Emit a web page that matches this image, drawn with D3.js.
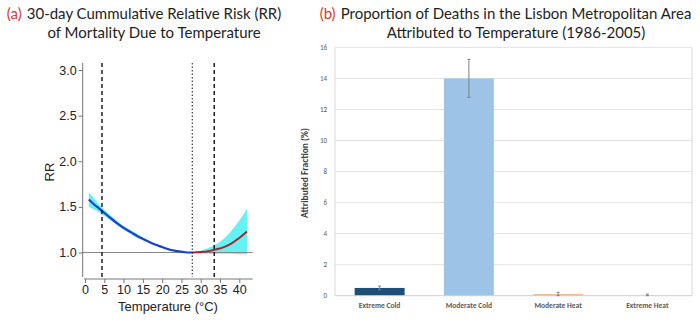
<!DOCTYPE html>
<html>
<head>
<meta charset="utf-8">
<script src="https://cdn.jsdelivr.net/npm/d3@7"></script>
<style>
  body { margin: 0; background: #fff; }
  svg { display: block; }
</style>
</head>
<body>
<div id="chart"></div>
<script>
// (a) cumulative relative risk curve
var temps  = [1, 2, 4, 6, 8, 10, 12, 14, 16, 18, 20, 22, 24, 26, 27.8, 30, 32, 34, 36, 38, 40, 42];
var rr     = [1.58, 1.54, 1.47, 1.40, 1.33, 1.27, 1.22, 1.17, 1.13, 1.09, 1.06, 1.03, 1.015, 1.003, 1.00, 1.005, 1.015, 1.035, 1.06, 1.10, 1.16, 1.23];
var rrLow  = [1.50, 1.48, 1.43, 1.37, 1.31, 1.25, 1.20, 1.15, 1.12, 1.08, 1.05, 1.02, 1.008, 0.998, 1.00, 0.99, 0.985, 0.985, 0.985, 0.985, 0.98, 0.98];
var rrHigh = [1.66, 1.61, 1.51, 1.43, 1.36, 1.29, 1.24, 1.19, 1.14, 1.10, 1.07, 1.04, 1.022, 1.008, 1.00, 1.02, 1.05, 1.09, 1.15, 1.24, 1.35, 1.48];
var mmt = 27.8;              // minimum mortality temperature
var cutoffs = [4.4, 33.5];   // extreme cold / extreme heat thresholds
var xTicksA = [0, 5, 10, 15, 20, 25, 30, 35, 40];
var yTicksA = [1.0, 1.5, 2.0, 2.5, 3.0];

// (b) attributable fraction by temperature range
var categories = ["Extreme Cold", "Moderate Cold", "Moderate Heat", "Extreme Heat"];
var af     = [0.5, 14.0, 0.09, 0.01];
var afLow  = [0.38, 12.78, 0.0, 0.0];
var afHigh = [0.62, 15.23, 0.22, 0.1];
var barColors = ["#1f4e79", "#9dc3e6", "#f4a06a", "#c0504d"];
var yTicksB = [0, 2, 4, 6, 8, 10, 12, 14, 16];

var W = 700, H = 323;
var svg = d3.select("#chart").append("svg").attr("width", W).attr("height", H);

var titleFont = "Lato, 'Open Sans', sans-serif";
var titleSize = "15px";
var red = "#d63a2f";

function title(cx, lines, tag) {
  var first;
  lines.forEach(function(t, i) {
    var el = svg.append("text")
      .attr("x", cx).attr("y", 19 + i * 19)
      .attr("text-anchor", "middle")
      .style("font-family", titleFont).style("font-size", titleSize)
      .style("fill", "#1e1e1e").text(t);
    if (i == 0) first = el;
  });
  var bb = first.node().getBBox();
  svg.append("text")
    .attr("x", bb.x - 5).attr("y", 19)
    .attr("text-anchor", "end")
    .style("font-family", titleFont).style("font-size", titleSize)
    .style("fill", red).text(tag);
}

title(154, ["30-day Cummulative Relative Risk (RR)", "of Mortality Due to Temperature"], "(a)");
title(516, ["Proportion of Deaths in the Lisbon Metropolitan Area", "Attributed to Temperature (1986-2005)"], "(b)");

// ---------- panel a ----------
var x = d3.scaleLinear().domain([0, 40]).range([85, 239.3]);
var y = d3.scaleLinear().domain([1, 3]).range([252.5, 70]);
var plotTop = 63, plotBottom = 277, axisX = 82.7, axisY = 279;
var pts = temps.map(function(t, i) { return {t: t, rr: rr[i], lo: rrLow[i], hi: rrHigh[i]}; });

var gA = svg.append("g");

gA.append("path")
  .datum(pts)
  .attr("fill", "#66f2f4")
  .attr("d", d3.area()
    .x(function(d) { return x(d.t); })
    .y0(function(d) { return y(d.lo); })
    .y1(function(d) { return y(d.hi); })
    .curve(d3.curveCatmullRom));

// reference line at RR = 1
gA.append("line")
  .attr("x1", axisX).attr("x2", 252.7)
  .attr("y1", y(1)).attr("y2", y(1))
  .style("stroke", "#888").style("stroke-width", 1.2);

var line = d3.line()
  .x(function(d) { return x(d.t); })
  .y(function(d) { return y(d.rr); })
  .curve(d3.curveCatmullRom);

gA.append("path")
  .datum(pts.filter(function(d) { return d.t <= mmt; }))
  .attr("fill", "none").attr("stroke", "#1d3fcf").attr("stroke-width", 2.2)
  .attr("d", line);
gA.append("path")
  .datum(pts.filter(function(d) { return d.t >= mmt; }))
  .attr("fill", "none").attr("stroke", "#a8232a").attr("stroke-width", 1.9)
  .attr("d", line);

cutoffs.forEach(function(c) {
  gA.append("line")
    .attr("x1", x(c)).attr("x2", x(c))
    .attr("y1", plotTop).attr("y2", plotBottom)
    .style("stroke", "#111").style("stroke-width", 1.4)
    .style("stroke-dasharray", "4,3");
});
gA.append("line")
  .attr("x1", x(mmt)).attr("x2", x(mmt))
  .attr("y1", plotTop).attr("y2", plotBottom)
  .style("stroke", "#111").style("stroke-width", 1)
  .style("stroke-dasharray", "1.5,2");

// axes
var axisFont = "'Liberation Sans', Arial, sans-serif";
var yAxisA = gA.append("g")
  .attr("transform", "translate(" + axisX + ",0)")
  .call(d3.axisLeft(y).tickValues(yTicksA).tickFormat(d3.format(".1f")).tickSize(4).tickSizeOuter(0));
yAxisA.select(".domain").attr("d", "M0," + plotTop + "V" + plotBottom);

var xAxisA = gA.append("g")
  .attr("transform", "translate(0," + axisY + ")")
  .call(d3.axisBottom(x).tickValues(xTicksA).tickSize(4).tickSizeOuter(0));
xAxisA.select(".domain").attr("d", "M84,0H252.7");

[yAxisA, xAxisA].forEach(function(a) {
  a.selectAll("path, line").style("stroke", "#777");
  a.selectAll("text").style("font-family", axisFont).style("font-size", "12.5px").style("fill", "#222");
});
yAxisA.selectAll("text").attr("x", -6);
xAxisA.selectAll("text").attr("y", 6);

gA.append("text")
  .attr("x", 168).attr("y", 311)
  .attr("text-anchor", "middle")
  .style("font-family", axisFont).style("font-size", "13px").style("fill", "#222")
  .text("Temperature (°C)");
gA.append("text")
  .attr("transform", "translate(54,172) rotate(-90)")
  .attr("text-anchor", "middle")
  .style("font-family", axisFont).style("font-size", "13px").style("fill", "#222")
  .text("RR");

// ---------- panel b ----------
var xb = d3.scaleBand().domain(categories).range([335, 692]).paddingInner(0.44).paddingOuter(0.22);
var yb = d3.scaleLinear().domain([0, 16]).range([295.7, 47.4]);
var barFont = "Calibri, Carlito, 'Open Sans', sans-serif";

var gB = svg.append("g");

gB.selectAll("line.grid")
  .data(yTicksB.slice(1))
  .enter().append("line")
  .attr("class", "grid")
  .attr("x1", 335).attr("x2", 692)
  .attr("y1", function(d) { return yb(d); })
  .attr("y2", function(d) { return yb(d); })
  .style("stroke", "#e4e4e4").style("stroke-width", 1);

// frame sides
[335, 692].forEach(function(px) {
  gB.append("line")
    .attr("x1", px).attr("x2", px).attr("y1", yb(16)).attr("y2", yb(0))
    .style("stroke", "#d9d9d9");
});

var rows = categories.map(function(c, i) { return {c: c, v: af[i], lo: afLow[i], hi: afHigh[i], col: barColors[i]}; });

gB.selectAll("rect")
  .data(rows)
  .enter().append("rect")
  .attr("x", function(d) { return xb(d.c); })
  .attr("width", xb.bandwidth())
  .attr("y", function(d) { return yb(d.v); })
  .attr("height", function(d) { return yb(0) - yb(d.v); })
  .attr("fill", function(d) { return d.col; });

gB.append("line")
  .attr("x1", 335).attr("x2", 692).attr("y1", yb(0)).attr("y2", yb(0))
  .style("stroke", "#cfcfcf");

// error bars
var eb = gB.selectAll("g.err").data(rows).enter().append("g").attr("class", "err")
  .attr("transform", function(d) { return "translate(" + (xb(d.c) + xb.bandwidth() / 2) + ",0)"; });
eb.append("line")
  .attr("y1", function(d) { return yb(d.lo); })
  .attr("y2", function(d) { return yb(d.hi); })
  .style("stroke", "#7f7f7f").style("stroke-width", 1);
eb.selectAll("line.cap")
  .data(function(d) { return [d.lo, d.hi]; })
  .enter().append("line").attr("class", "cap")
  .attr("x1", -1.5).attr("x2", 1.5)
  .attr("y1", function(v) { return yb(v); })
  .attr("y2", function(v) { return yb(v); })
  .style("stroke", "#7f7f7f").style("stroke-width", 1);

gB.selectAll("text.ytick")
  .data(yTicksB)
  .enter().append("text").attr("class", "ytick")
  .attr("x", 327).attr("y", function(d) { return yb(d) + 2.5; })
  .attr("text-anchor", "end")
  .style("font-family", barFont).style("font-size", "7px").style("fill", "#595959")
  .text(function(d) { return d; });

gB.selectAll("text.cat")
  .data(categories)
  .enter().append("text").attr("class", "cat")
  .attr("x", function(d) { return xb(d) + xb.bandwidth() / 2; })
  .attr("y", 308)
  .attr("text-anchor", "middle")
  .style("font-family", barFont).style("font-size", "7.5px").style("font-weight", "bold").style("fill", "#595959")
  .text(function(d) { return d; });

gB.append("text")
  .attr("transform", "translate(308,173) rotate(-90)")
  .attr("text-anchor", "middle")
  .style("font-family", barFont).style("font-size", "9.5px").style("font-weight", "bold").style("fill", "#404040")
  .text("Attributed Fraction (%)");
</script>
</body>
</html>
